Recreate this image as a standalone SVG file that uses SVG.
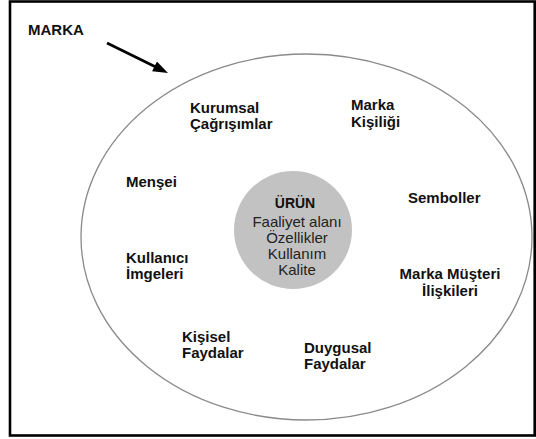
<svg xmlns="http://www.w3.org/2000/svg" width="536" height="439" viewBox="0 0 536 439">
<style>
.lbl{font-family:"Liberation Sans",Arial,sans-serif;font-size:15px;font-weight:bold;fill:#111}
.core{font-family:"Liberation Sans",Arial,sans-serif;font-size:15px;fill:#222;text-anchor:middle}
.coreh{font-family:"Liberation Sans",Arial,sans-serif;font-size:14px;font-weight:bold;fill:#111;text-anchor:middle}
.mid{text-anchor:middle}
</style>
<defs>
<marker id="ah" markerUnits="userSpaceOnUse" markerWidth="16" markerHeight="12" refX="2" refY="5.5" orient="auto">
<path d="M0,0 L15,5.5 L0,11 z" fill="#000"/>
</marker>
</defs>
<rect x="0" y="0" width="536" height="439" fill="#fff"/>
<rect id="frame" x="10" y="1.5" width="524.7" height="434" fill="none" stroke="#000" stroke-width="2.6"/>
<g id="marka">
<text class="lbl" x="28" y="35">MARKA</text>
</g>
<g id="connectors">
<line x1="107" y1="43" x2="156.3" y2="67.3" stroke="#000" stroke-width="2.7" marker-end="url(#ah)"/>
</g>
<g id="brand-ellipse">
<ellipse cx="306.5" cy="237" rx="225.5" ry="183" fill="none" stroke="#8a8a8a" stroke-width="1.3"/>
</g>
<g id="urun">
<circle cx="293" cy="230" r="59" fill="#c2c2c2"/>
<text class="coreh" x="295" y="208">ÜRÜN</text>
<text class="core" x="297" y="227">Faaliyet alanı</text>
<text class="core" x="297" y="243">Özellikler</text>
<text class="core" x="297" y="259">Kullanım</text>
<text class="core" x="297" y="275">Kalite</text>
</g>
<g id="kurumsal">
<text class="lbl" x="190" y="113">Kurumsal</text>
<text class="lbl" x="190" y="129">Çağrışımlar</text>
</g>
<g id="kisilik">
<text class="lbl" x="351" y="110">Marka</text>
<text class="lbl" x="351" y="127">Kişiliği</text>
</g>
<g id="mensei">
<text class="lbl" x="126" y="187">Menşei</text>
</g>
<g id="semboller">
<text class="lbl" x="408" y="203">Semboller</text>
</g>
<g id="kullanici">
<text class="lbl" x="126" y="263">Kullanıcı</text>
<text class="lbl" x="126" y="279">İmgeleri</text>
</g>
<g id="iliskiler">
<text class="lbl mid" x="450" y="279">Marka Müşteri</text>
<text class="lbl mid" x="450" y="296">İlişkileri</text>
</g>
<g id="kisisel">
<text class="lbl" x="182" y="342">Kişisel</text>
<text class="lbl" x="182" y="358">Faydalar</text>
</g>
<g id="duygusal">
<text class="lbl" x="304" y="353">Duygusal</text>
<text class="lbl" x="304" y="369">Faydalar</text>
</g>
</svg>
